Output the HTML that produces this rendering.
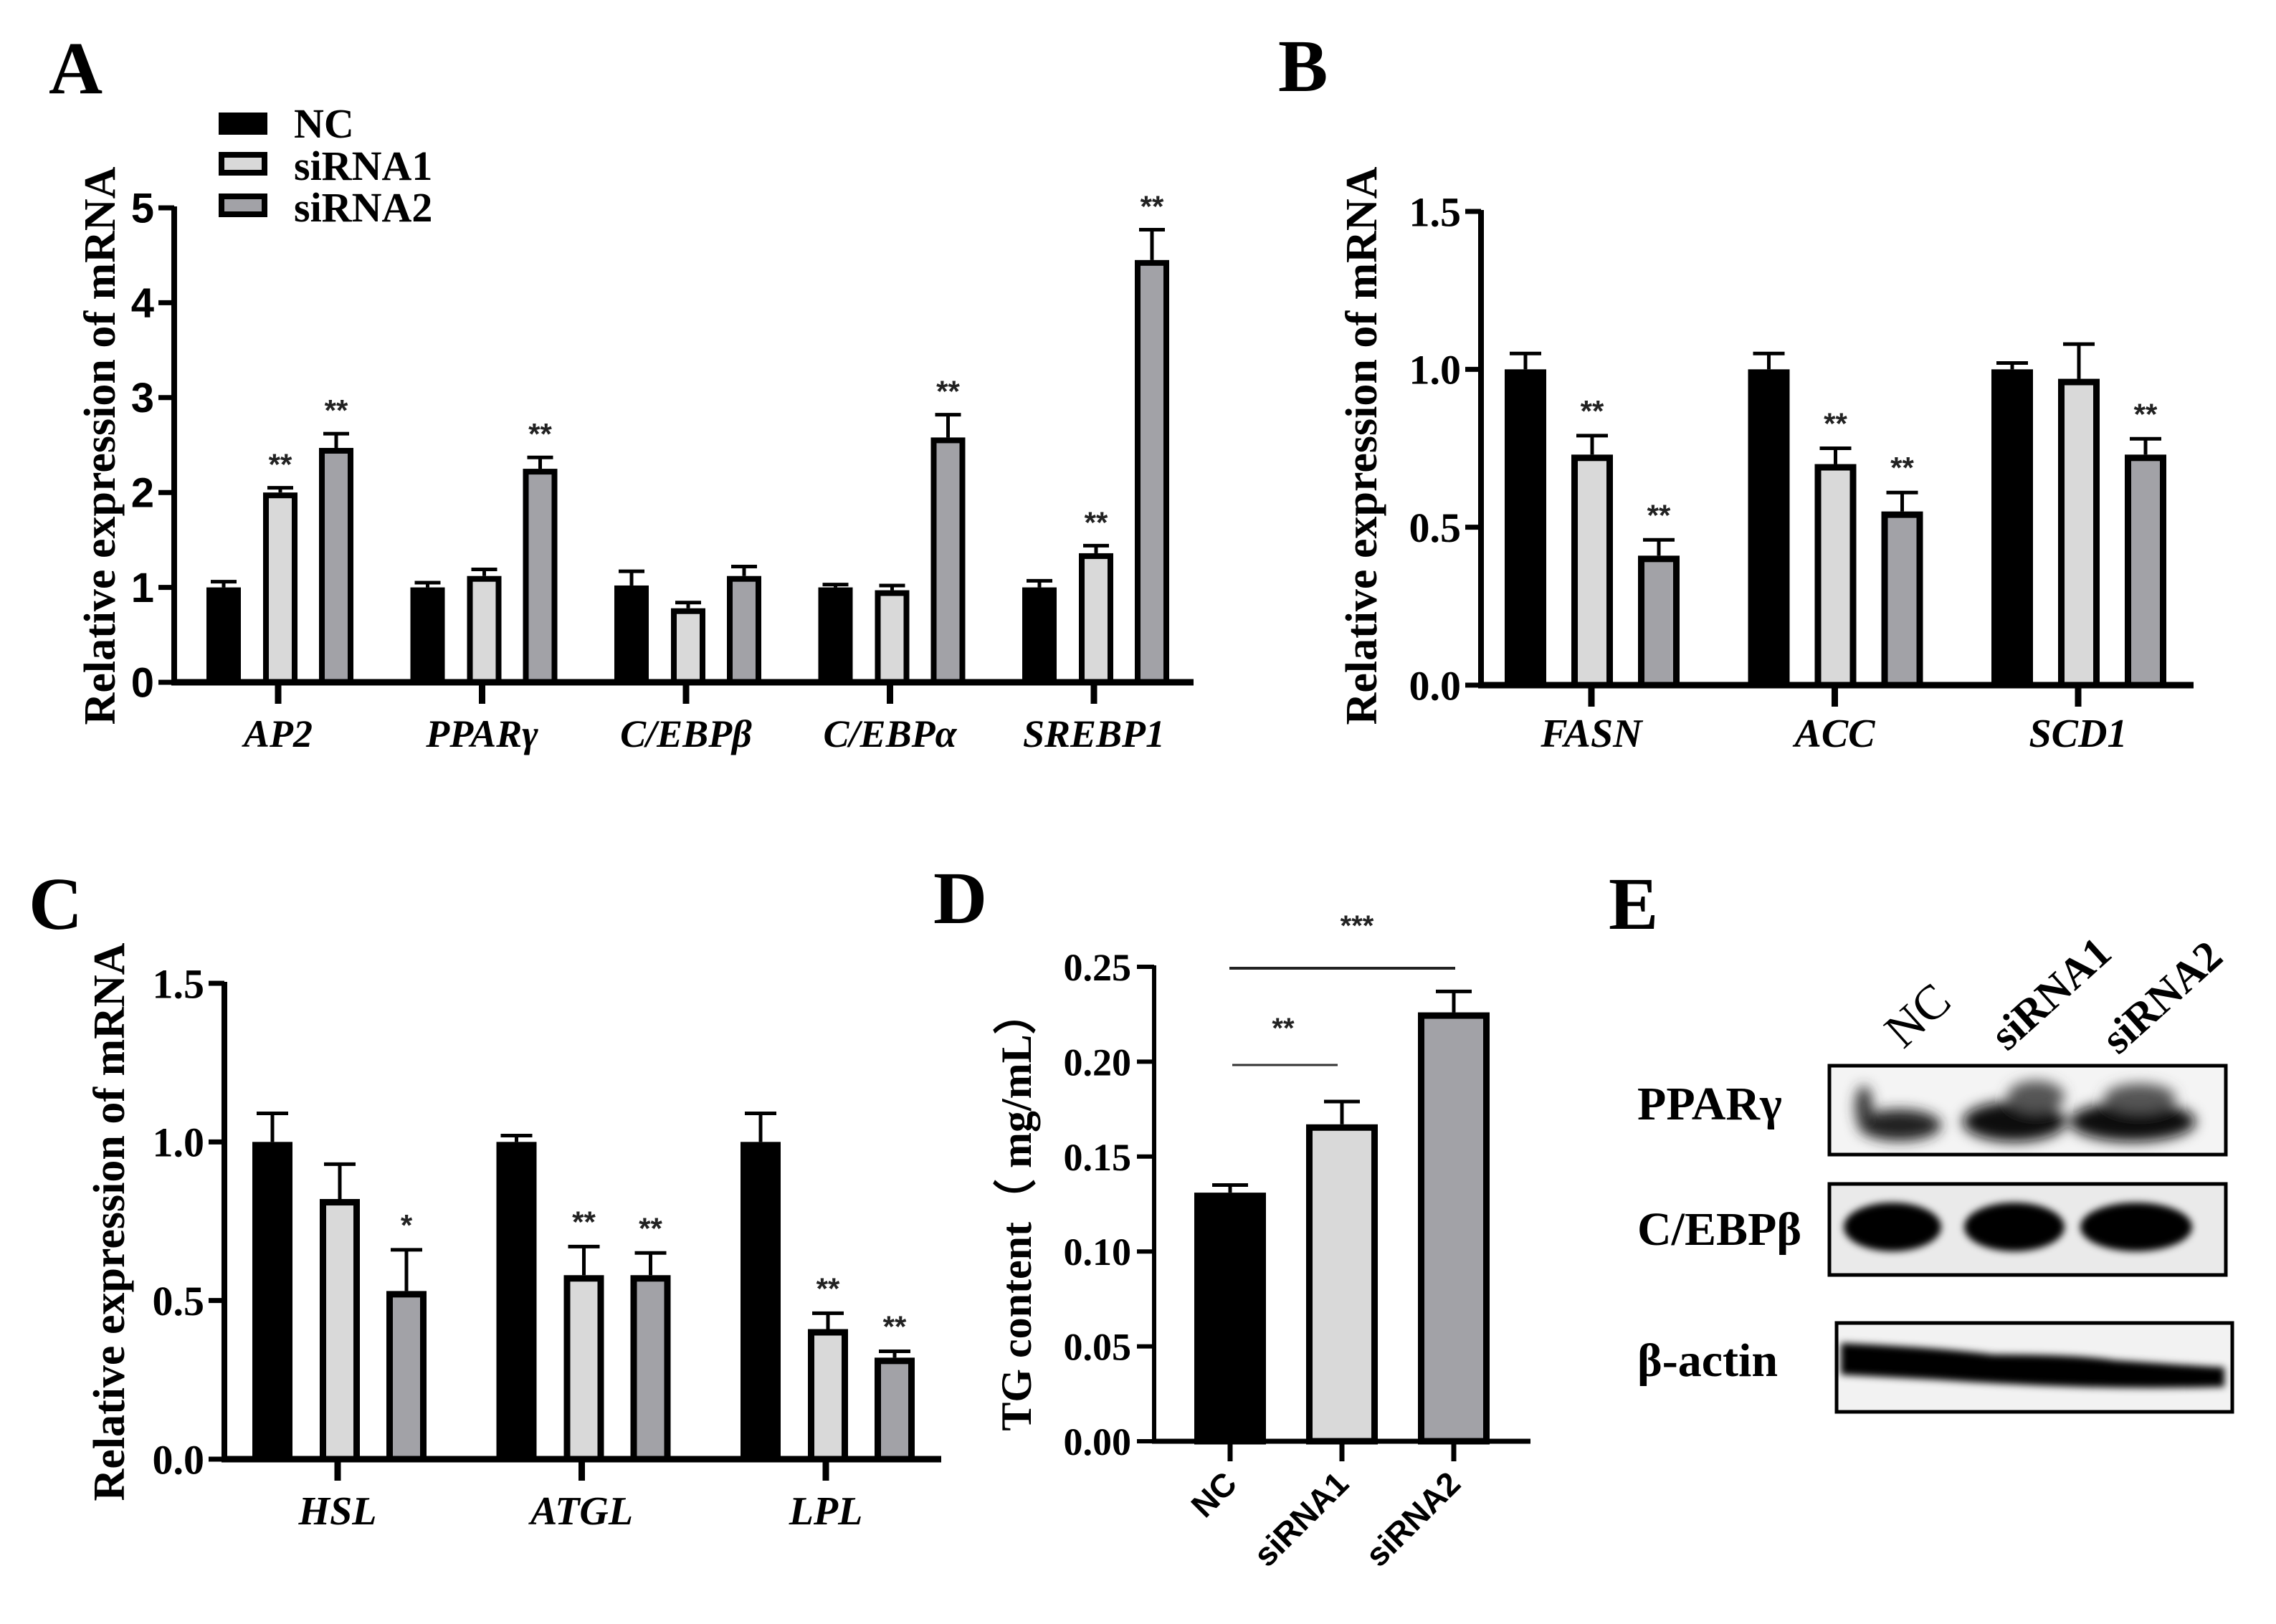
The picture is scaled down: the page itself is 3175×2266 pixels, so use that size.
<!DOCTYPE html>
<html><head><meta charset="utf-8"><style>
html,body{margin:0;padding:0;background:#fff}
svg{display:block}
.serif{font-family:"Liberation Serif",serif;font-weight:bold}
.sans{font-family:"Liberation Sans",sans-serif;font-weight:bold}
</style></head><body>
<svg id="fig" width="3175" height="2266" viewBox="0 0 3175 2266" xmlns="http://www.w3.org/2000/svg">
<defs>
<filter id="blur" x="-20%" y="-50%" width="140%" height="200%"><feGaussianBlur stdDeviation="9"/></filter>
<filter id="blur2" x="-20%" y="-50%" width="140%" height="200%"><feGaussianBlur stdDeviation="5"/></filter>
</defs>
<text class="serif" x="68" y="130" font-size="104">A</text>
<text class="serif" x="1783" y="127" font-size="104">B</text>
<text class="serif" x="40" y="1296" font-size="104">C</text>
<text class="serif" x="1302" y="1288" font-size="104">D</text>
<text class="serif" x="2244" y="1296" font-size="104">E</text>

<g>
<rect x="305" y="157" width="68" height="31" fill="#000"/>
<rect x="309" y="216" width="60" height="25" fill="#d9d9d9" stroke="#000" stroke-width="8"/>
<rect x="309" y="274" width="60" height="25" fill="#a2a2a7" stroke="#000" stroke-width="8"/>
<text class="serif" x="410" y="192" font-size="58">NC</text>
<text class="serif" x="410" y="251" font-size="58">siRNA1</text>
<text class="serif" x="410" y="309" font-size="58">siRNA2</text>
</g>

<g>
<text class="serif" x="2655" y="1465" font-size="68" transform="rotate(-42 2655 1465)" style="font-weight:normal">NC</text>
<text class="serif" x="2800" y="1468" font-size="60" transform="rotate(-42 2800 1468)">siRNA1</text>
<text class="serif" x="2955" y="1473" font-size="60" transform="rotate(-42 2955 1473)">siRNA2</text>

<rect x="2552" y="1487" width="553" height="124" fill="#f4f4f4" stroke="#000" stroke-width="5"/>
<g filter="url(#blur)">
<ellipse cx="2650" cy="1570" rx="58" ry="22" fill="#222"/>
<ellipse cx="2600" cy="1545" rx="12" ry="30" fill="#333"/>
<ellipse cx="2810" cy="1565" rx="72" ry="28" fill="#0a0a0a"/>
<ellipse cx="2840" cy="1530" rx="40" ry="22" fill="#555"/>
<ellipse cx="2975" cy="1565" rx="88" ry="28" fill="#0a0a0a"/>
<ellipse cx="2985" cy="1532" rx="50" ry="20" fill="#555"/>
</g>
<text class="serif" x="2284" y="1562" font-size="66">PPARγ</text>

<rect x="2552" y="1652" width="553" height="127" fill="#eaeaea" stroke="#000" stroke-width="5"/>
<g filter="url(#blur2)">
<ellipse cx="2640" cy="1712" rx="68" ry="34" fill="#050505"/>
<ellipse cx="2810" cy="1712" rx="70" ry="34" fill="#050505"/>
<ellipse cx="2980" cy="1712" rx="78" ry="34" fill="#050505"/>
</g>
<text class="serif" x="2284" y="1737" font-size="66">C/EBPβ</text>

<rect x="2562" y="1846" width="552" height="124" fill="#f2f2f2" stroke="#000" stroke-width="5"/>
<g filter="url(#blur2)">
<path d="M2568 1874 Q2700 1880 2780 1890 Q2900 1890 2950 1898 Q3050 1905 3103 1908 L3103 1935 Q3000 1938 2900 1935 Q2800 1932 2700 1925 L2568 1918 Z" fill="#050505"/>
</g>
<text class="serif" x="2284" y="1920" font-size="66">β-actin</text>
</g>

<g id="charts"></g>
</svg>
<script>
// ---------- Panel A data ----------
const aCats = ["AP2","PPARγ","C/EBPβ","C/EBPα","SREBP1"];
const aNC   = [1.00, 1.00, 1.02, 1.00, 1.00];
const aS1   = [2.00, 1.12, 0.78, 0.97, 1.36];
const aS2   = [2.47, 2.25, 1.12, 2.58, 4.45];
const aNCe  = [0.06, 0.05, 0.15, 0.03, 0.07];
const aS1e  = [0.05, 0.07, 0.06, 0.05, 0.08];
const aS2e  = [0.15, 0.12, 0.10, 0.24, 0.32];
const aS1s  = ["**","","","","**"];
const aS2s  = ["**","**","","**","**"];
const aTicks = [0,1,2,3,4,5];
// ---------- Panel B data ----------
const bCats = ["FASN","ACC","SCD1"];
const bNC   = [1.00, 1.00, 1.00];
const bS1   = [0.73, 0.70, 0.97];
const bS2   = [0.41, 0.55, 0.73];
const bNCe  = [0.05, 0.05, 0.02];
const bS1e  = [0.06, 0.05, 0.11];
const bS2e  = [0.05, 0.06, 0.05];
const bS1s  = ["**","**",""];
const bS2s  = ["**","**","**"];
const bTicks = ["0.0","0.5","1.0","1.5"];
// ---------- Panel C data ----------
const cCats = ["HSL","ATGL","LPL"];
const cNC   = [1.00, 1.00, 1.00];
const cS1   = [0.82, 0.58, 0.41];
const cS2   = [0.53, 0.58, 0.32];
const cNCe  = [0.09, 0.02, 0.09];
const cS1e  = [0.11, 0.09, 0.05];
const cS2e  = [0.13, 0.07, 0.02];
const cS1s  = ["","**","**"];
const cS2s  = ["*","**","**"];
const cTicks = ["0.0","0.5","1.0","1.5"];
// ---------- Panel D data ----------
const dCats = ["NC","siRNA1","siRNA2"];
const dVals = [0.131, 0.167, 0.226];
const dErr  = [0.004, 0.012, 0.011];
const dTicks = ["0.00","0.05","0.10","0.15","0.20","0.25"];

const NS = "http://www.w3.org/2000/svg";
const root = document.getElementById("charts");
function mk(tag, attrs, parent){
  const e = document.createElementNS(NS, tag);
  for (const k in attrs) e.setAttribute(k, attrs[k]);
  (parent||root).appendChild(e);
  return e;
}
const FILLS = ["#000000","#d9d9d9","#a2a2a7"];

function groupedChart(p){
  const g = mk("g",{});
  
  
  const y = v => p.y0 - (v - 0) / p.ymax * (p.y0 - p.ytop);
  const series = [[p.nc,p.nce,null],[p.s1,p.s1e,p.s1s],[p.s2,p.s2e,p.s2s]];
  p.cats.forEach((cat, i) => {
    const cx = p.x0 + p.first + i * p.step;
    series.forEach((s, k) => {
      const bx = cx + p.offs[k];
      const top = y(s[0][i]);
      const et = y(s[0][i] + s[1][i]);
      const eb = mk("line",{x1:bx,x2:bx,y1:top,y2:et,stroke:"#000","stroke-width":5},g);
      
      
      const cap = mk("line",{x1:bx-p.cap,x2:bx+p.cap,y1:et,y2:et,stroke:"#000","stroke-width":5},g);
      
      
      const hw = p.bw/2, sw = p.sw;
      const r = mk("rect",{x:bx-hw+sw/2,y:top+sw/2,width:p.bw-sw,height:Math.max(0,p.y0-top-sw/2),fill:FILLS[k],stroke:"#000","stroke-width":sw},g);
      
      
      if (s[2] && s[2][i]) {
        const t = mk("text",{x:bx,y:et-p.starGap,"text-anchor":"middle","font-size":p.starSize,class:"sans",fill:"#222"},g);
        t.textContent = s[2][i];
        
        
      }
    });
    const tk = mk("line",{x1:cx,x2:cx,y1:p.y0,y2:p.y0+30,stroke:"#000","stroke-width":9},g);
    
    
    const lab = mk("text",{x:cx,y:p.catY,"text-anchor":"middle","font-size":p.catSize,class:"serif","font-style":"italic"},g);
    lab.textContent = cat;
    
    
  });
  const ax = mk("line",{x1:p.x0,x2:p.x0,y1:p.ytop-2,y2:p.y0+4,stroke:"#000","stroke-width":8},g);
  
  
  const xa = mk("line",{x1:p.x0-4,x2:p.xend,y1:p.y0,y2:p.y0,stroke:"#000","stroke-width":9},g);
  
  
  p.ticks.forEach(tv => {
    const v = parseFloat(tv);
    const ty = y(v);
    const tl = mk("line",{x1:p.x0-22,x2:p.x0,y1:ty,y2:ty,stroke:"#000","stroke-width":7},g);
    
    
    const tt = mk("text",{x:p.x0-28,y:ty+p.tickSize*0.35,"text-anchor":"end","font-size":p.tickSize,class:p.tickCls},g);
    tt.textContent = String(tv);
    
    
  });
  const yt = mk("text",{x:0,y:0,"text-anchor":"middle","font-size":62,class:"serif",transform:`translate(${p.titleX},${p.titleY}) rotate(-90)`},g);
  yt.textContent = "Relative expression of mRNA";
  
  
}

groupedChart({name:"chart-a",cats:aCats,nc:aNC,s1:aS1,s2:aS2,nce:aNCe,s1e:aS1e,s2e:aS2e,s1s:aS1s,s2s:aS2s,ticks:aTicks,
  x0:243,xend:1665,first:145,step:284.5,offs:[-76,3,81],bw:48,sw:8,cap:18,y0:952,ytop:290,ymax:5,
  catY:1042,catSize:54,tickSize:58,tickCls:"sans",titleX:160,titleY:622,starGap:18,starSize:42});
groupedChart({name:"chart-b",cats:bCats,nc:bNC,s1:bS1,s2:bS2,nce:bNCe,s1e:bS1e,s2e:bS2e,s1s:bS1s,s2s:bS2s,ticks:bTicks,
  x0:2066,xend:3060,first:154,step:339.5,offs:[-92,1,94],bw:58,sw:9,cap:22,y0:956,ytop:295,ymax:1.5,
  catY:1042,catSize:56,tickSize:58,tickCls:"serif",titleX:1920,titleY:622,starGap:20,starSize:42});
groupedChart({name:"chart-c",cats:cCats,nc:cNC,s1:cS1,s2:cS2,nce:cNCe,s1e:cS1e,s2e:cS2e,s1s:cS1s,s2s:cS2s,ticks:cTicks,
  x0:313,xend:1313,first:158,step:340.5,offs:[-91,3,96],bw:56,sw:9,cap:22,y0:2036,ytop:1372,ymax:1.5,
  catY:2127,catSize:56,tickSize:58,tickCls:"serif",titleX:173,titleY:1705,starGap:20,starSize:42});

(function(){
  const g = mk("g",{});
  
  
  const x0 = 1610, y0 = 2011, ytop = 1349, ymax = 0.25;
  const y = v => y0 - v / ymax * (y0 - ytop);
  const xc = i => 1716 + i * 156;
  dCats.forEach((c, i) => {
    const bx = xc(i), top = y(dVals[i]), et = y(dVals[i] + dErr[i]);
    const eb = mk("line",{x1:bx,x2:bx,y1:top,y2:et,stroke:"#000","stroke-width":5},g);
    
    
    const cap = mk("line",{x1:bx-25,x2:bx+25,y1:et,y2:et,stroke:"#000","stroke-width":5},g);
    
    
    const sw = 9;
    const r = mk("rect",{x:bx-50+sw/2,y:top+sw/2,width:100-sw,height:y0-top-sw/2,fill:FILLS[i],stroke:"#000","stroke-width":sw},g);
    
    
    const tk = mk("line",{x1:bx,x2:bx,y1:y0,y2:y0+28,stroke:"#000","stroke-width":7},g);
    
    
    const t = mk("text",{x:0,y:0,"text-anchor":"end","font-size":46,class:"sans",transform:`translate(${bx+12},${y0+62}) rotate(-45)`},g);
    t.textContent = c;
    
    
  });
  const ax = mk("line",{x1:x0,x2:x0,y1:ytop-2,y2:y0+3,stroke:"#000","stroke-width":6},g);
  
  
  const xa = mk("line",{x1:x0-3,x2:2135,y1:y0,y2:y0,stroke:"#000","stroke-width":7},g);
  
  
  dTicks.forEach(tv => {
    const ty = y(parseFloat(tv));
    const tl = mk("line",{x1:x0-24,x2:x0,y1:ty,y2:ty,stroke:"#000","stroke-width":6},g);
    
    
    const tt = mk("text",{x:x0-32,y:ty+19,"text-anchor":"end","font-size":54,class:"serif"},g);
    tt.textContent = tv;
    
    
  });
  const yt = mk("text",{x:0,y:0,"text-anchor":"middle","font-size":60,class:"serif",transform:`translate(1438,1690) rotate(-90)`},g);
  yt.textContent = "TG content（ mg/mL）";
  
  
  const l1 = mk("line",{x1:1715,x2:2030,y1:1351,y2:1351,stroke:"#222","stroke-width":4},g);
  
  
  const s1 = mk("text",{x:1893,y:1305,"text-anchor":"middle","font-size":40,class:"sans",fill:"#222"},g);
  s1.textContent = "***";
  
  
  const l2 = mk("line",{x1:1719,x2:1866,y1:1486,y2:1486,stroke:"#333","stroke-width":3},g);
  
  
  const s2 = mk("text",{x:1790,y:1448,"text-anchor":"middle","font-size":40,class:"sans",fill:"#222"},g);
  s2.textContent = "**";
  
  
})();
</script>
</body></html>
